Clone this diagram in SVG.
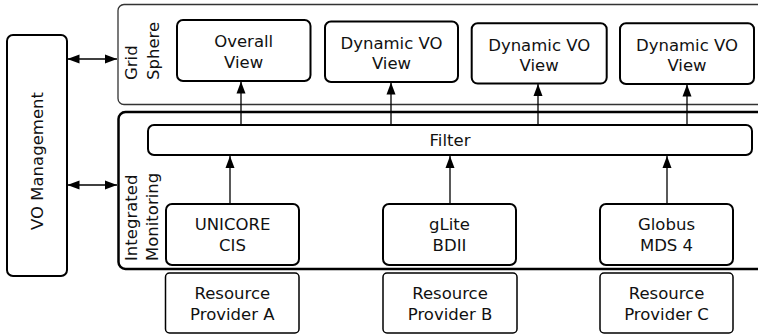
<svg xmlns="http://www.w3.org/2000/svg" width="758" height="336" viewBox="0 0 758 336">
  <defs>
    <style>
      .lbl { font-family: "DejaVu Sans", "Liberation Sans", sans-serif; font-size: 16.5px; fill: #111; text-anchor: middle; }
      .side { font-family: "DejaVu Sans", "Liberation Sans", sans-serif; font-size: 16.5px; fill: #111; }
      .node { fill: #fff; stroke: #000; stroke-width: 2; }
      .res { fill: #fff; stroke: #000; stroke-width: 1.5; }
      .conn { fill: none; stroke: #000; stroke-width: 1.3; }
    </style>
    <marker id="head" viewBox="0 0 12 10" refX="12" refY="5" markerWidth="12" markerHeight="10" markerUnits="userSpaceOnUse" orient="auto-start-reverse">
      <path d="M0,0.5 L12,5 L0,9.5 Z" fill="#000"/>
    </marker>
  </defs>

  <rect width="758" height="336" fill="#fff"/>

  <!-- layer frames -->
  <g id="grid-sphere">
    <rect x="118" y="4.5" width="700" height="100" rx="6" fill="#fff" stroke="#333" stroke-width="1.3"/>
    <text class="side" transform="translate(137,80) rotate(-90)">Grid</text>
    <text class="side" transform="translate(159,80) rotate(-90)">Sphere</text>
  </g>

  <g id="integrated-monitoring">
    <rect x="118.5" y="112" width="700" height="157" rx="7" fill="#fff" stroke="#000" stroke-width="2.5"/>
    <text class="side" transform="translate(137,261) rotate(-90)">Integrated</text>
    <text class="side" transform="translate(158,261) rotate(-90)">Monitoring</text>
  </g>

  <g id="vo-management">
    <rect x="7" y="35" width="60" height="241" rx="6" class="node"/>
    <text class="lbl" transform="translate(42.5,161) rotate(-90)">VO Management</text>
  </g>

  <!-- views -->
  <g id="overall-view">
    <rect x="177" y="20" width="133.5" height="61" rx="6" class="node"/>
    <text class="lbl" x="243.7" y="47">Overall</text>
    <text class="lbl" x="243.7" y="67.5">View</text>
  </g>
  <g id="dynamic-vo-view-1">
    <rect x="325" y="21.5" width="133" height="60.5" rx="6" class="node"/>
    <text class="lbl" x="391.5" y="48.5">Dynamic VO</text>
    <text class="lbl" x="391.5" y="69">View</text>
  </g>
  <g id="dynamic-vo-view-2">
    <rect x="471.7" y="23.3" width="135" height="60.3" rx="6" class="node"/>
    <text class="lbl" x="539.2" y="50.7">Dynamic VO</text>
    <text class="lbl" x="539.2" y="71">View</text>
  </g>
  <g id="dynamic-vo-view-3">
    <rect x="620" y="23.3" width="134" height="60.7" rx="6" class="node"/>
    <text class="lbl" x="687" y="50.7">Dynamic VO</text>
    <text class="lbl" x="687" y="71">View</text>
  </g>

  <!-- filter -->
  <g id="filter">
    <rect x="148" y="125" width="604" height="30" rx="6" class="node"/>
    <text class="lbl" x="450" y="146">Filter</text>
  </g>

  <!-- information services -->
  <g id="unicore-cis">
    <rect x="166" y="204" width="133" height="61" rx="6" class="node"/>
    <text class="lbl" x="232.5" y="230">UNICORE</text>
    <text class="lbl" x="232.5" y="251">CIS</text>
  </g>
  <g id="glite-bdii">
    <rect x="383" y="204" width="133" height="61" rx="6" class="node"/>
    <text class="lbl" x="449.5" y="230">gLite</text>
    <text class="lbl" x="449.5" y="251">BDII</text>
  </g>
  <g id="globus-mds4">
    <rect x="600" y="204" width="133" height="61" rx="6" class="node"/>
    <text class="lbl" x="666.5" y="230">Globus</text>
    <text class="lbl" x="666.5" y="251">MDS 4</text>
  </g>

  <!-- resource providers -->
  <g id="resource-provider-a">
    <rect x="165.5" y="273" width="133.5" height="60" rx="4" class="res"/>
    <text class="lbl" x="232.3" y="299">Resource</text>
    <text class="lbl" x="232.3" y="320">Provider A</text>
  </g>
  <g id="resource-provider-b">
    <rect x="383" y="273" width="134" height="60" rx="4" class="res"/>
    <text class="lbl" x="450" y="299">Resource</text>
    <text class="lbl" x="450" y="320">Provider B</text>
  </g>
  <g id="resource-provider-c">
    <rect x="600" y="273" width="133" height="60" rx="4" class="res"/>
    <text class="lbl" x="666.5" y="299">Resource</text>
    <text class="lbl" x="666.5" y="320">Provider C</text>
  </g>

  <!-- connectors -->
  <g id="connectors">
    <line class="conn" x1="67.5" y1="59" x2="117" y2="59" marker-start="url(#head)" marker-end="url(#head)"/>
    <line class="conn" x1="67.5" y1="185" x2="117" y2="185" marker-start="url(#head)" marker-end="url(#head)"/>

    <line class="conn" x1="241" y1="125" x2="241" y2="81.5" marker-end="url(#head)"/>
    <line class="conn" x1="391" y1="125" x2="391" y2="82.5" marker-end="url(#head)"/>
    <line class="conn" x1="538" y1="125" x2="538" y2="84" marker-end="url(#head)"/>
    <line class="conn" x1="687" y1="125" x2="687" y2="84.5" marker-end="url(#head)"/>

    <line class="conn" x1="230" y1="204" x2="230" y2="156" marker-end="url(#head)"/>
    <line class="conn" x1="450" y1="204" x2="450" y2="156" marker-end="url(#head)"/>
    <line class="conn" x1="667" y1="204" x2="667" y2="156" marker-end="url(#head)"/>
  </g>
</svg>
